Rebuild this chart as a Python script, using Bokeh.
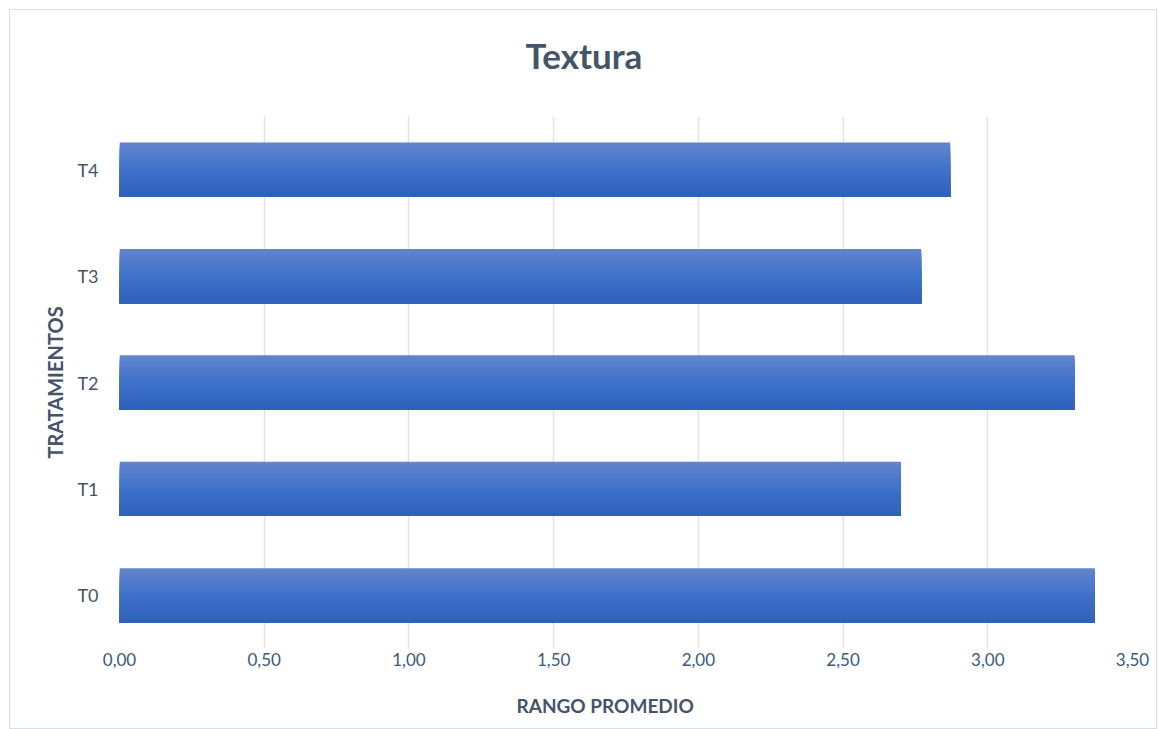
from bokeh.plotting import figure
from bokeh.models import FactorRange, Range1d, FixedTicker, Title, ColumnDataSource
from bokeh.transform import dodge
from bokeh.embed import file_html
from bokeh.resources import INLINE

categories = ["T0", "T1", "T2", "T3", "T4"]
rango_promedio = [3.37, 2.70, 3.30, 2.77, 2.87]
x_ticks = [0.0, 0.5, 1.0, 1.5, 2.0, 2.5, 3.0, 3.5]
x_tick_labels = ["0,00", "0,50", "1,00", "1,50", "2,00", "2,50", "3,00", "3,50"]
chart_title = "Textura"
x_title = "RANGO PROMEDIO"
y_title = "TRATAMIENTOS"

FONT = "Lato"
TITLE_COLOR = "#44546A"
TICK_COLOR = "#3A5A80"

src = ColumnDataSource(dict(cat=categories, val=rango_promedio))

p = figure(
    width=1148, height=720,
    y_range=FactorRange(*categories, range_padding=0),
    x_range=Range1d(0, 3.5),
    output_backend="svg", toolbar_location=None,
    min_border_left=109, min_border_right=26,
    min_border_top=106, min_border_bottom=82,
)
p.styles = {"border": "1px solid #DADDE2", "margin-left": "9px", "margin-top": "9px"}
p.outline_line_color = None
p.background_fill_color = "white"
p.border_fill_color = "white"

# spacer between title and frame
spacer_top = Title(text=" ", text_font_size="1px", standoff=33)
p.add_layout(spacer_top, "above")

# title
p.title.text = chart_title
p.title.align = "left"
p.title.offset = 406
p.title.text_font = FONT
p.title.text_font_size = "35px"
p.title.text_font_style = "bold"
p.title.text_color = TITLE_COLOR
p.title.standoff = 10

# gradient bars: base + stacked strips
bar_h = 0.51
top_c = (99, 133, 205)
mid_c = (62, 114, 201)
bot_c = (46, 96, 185)

def grad(f):
    if f < 0.5:
        a, b, t = top_c, mid_c, f / 0.5
    else:
        a, b, t = mid_c, bot_c, (f - 0.5) / 0.5
    r, g, bl = (round(a[i] + (b[i] - a[i]) * t) for i in range(3))
    return "#%02x%02x%02x" % (r, g, bl)

N = 24
for k in range(N):
    top_k = bar_h / 2 - k * bar_h / N
    bottom = -bar_h / 2
    center = (top_k + bottom) / 2
    h = top_k - bottom
    p.hbar(y=dodge("cat", center, range=p.y_range), left=0, right="val",
           height=h, source=src, fill_color=grad((k + 0.5) / N), line_color=None)

# axes
p.xaxis.ticker = FixedTicker(ticks=x_ticks)
p.xaxis.major_label_overrides = dict(zip(x_ticks, x_tick_labels))
p.xaxis.axis_line_color = None
p.xaxis.major_tick_line_color = None
p.xaxis.minor_tick_line_color = None
p.xaxis.major_label_text_font = FONT
p.xaxis.major_label_text_font_size = "17px"
p.xaxis.major_label_text_color = TICK_COLOR
p.xaxis.major_label_standoff = -2

p.yaxis.axis_line_color = None
p.yaxis.major_tick_line_color = None
p.yaxis.minor_tick_line_color = None
p.yaxis.major_label_text_font = FONT
p.yaxis.major_label_text_font_size = "18px"
p.yaxis.major_label_text_color = TITLE_COLOR
p.yaxis.major_label_standoff = 15
p.yaxis.axis_label = y_title
p.yaxis.axis_label_text_font = FONT
p.yaxis.axis_label_text_font_size = "20px"
p.yaxis.axis_label_text_font_style = "bold"
p.yaxis.axis_label_text_color = TITLE_COLOR
p.yaxis.axis_label_standoff = 7

# spacer between tick labels and x title
spacer_bottom = Title(text=" ", text_font_size="1px", standoff=15)
p.add_layout(spacer_bottom, "below")

xt = Title(text=x_title, align="left", offset=397, text_font=FONT,
           text_font_size="19px", text_font_style="bold",
           text_color=TITLE_COLOR, standoff=10)
p.add_layout(xt, "below")

p.xgrid.grid_line_color = "#E0E3E8"
p.xgrid.grid_line_width = 1.5
p.ygrid.grid_line_color = None

open("out.html", "w").write(file_html(p, INLINE))
